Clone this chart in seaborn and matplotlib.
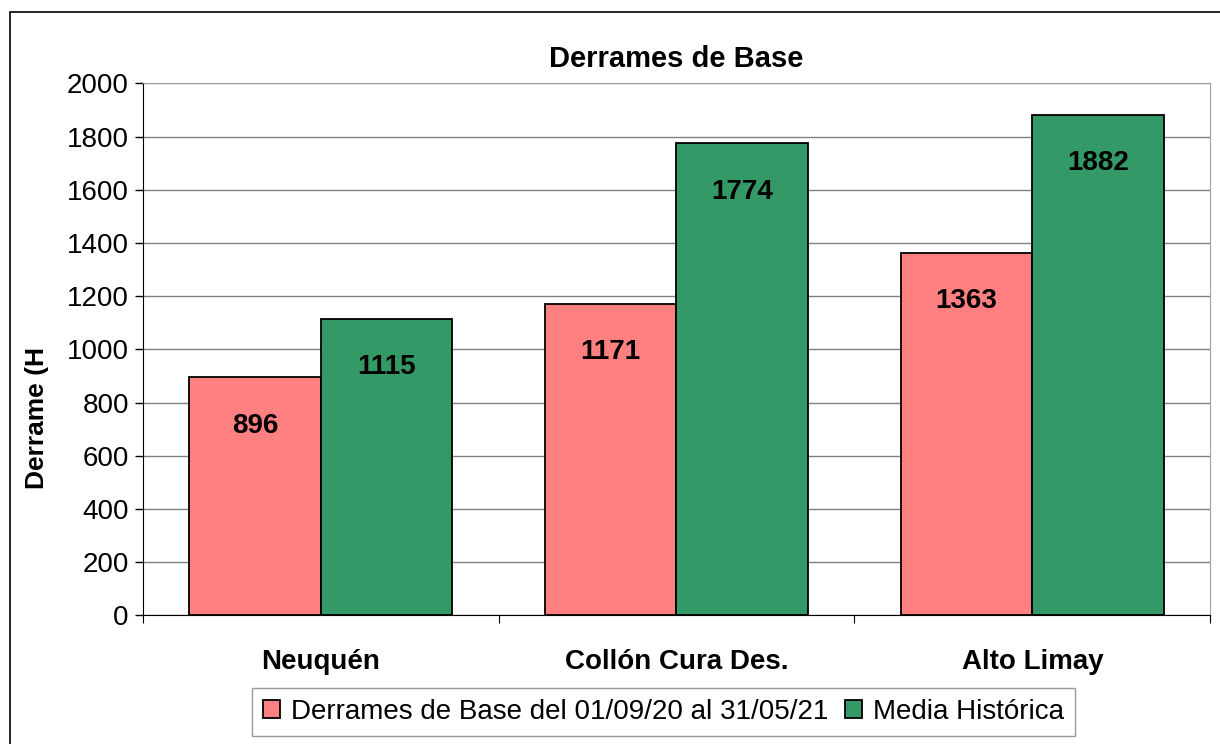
import numpy as np
import pandas as pd
import seaborn as sns
import matplotlib.pyplot as plt
from matplotlib.patches import Rectangle

categorias = ["Neuquén", "Collón Cura Des.", "Alto Limay"]
derrames = [896, 1171, 1363]
media = [1115, 1774, 1882]
series = ["Derrames de Base del 01/09/20 al 31/05/21", "Media Histórica"]

df = pd.DataFrame({
    "cat": categorias * 2,
    "serie": [series[0]] * 3 + [series[1]] * 3,
    "val": derrames + media,
})

sns.set_style("white")
plt.rcParams['font.family'] = ['Liberation Sans', 'DejaVu Sans']
plt.rcParams['text.color'] = 'black'
plt.rcParams['axes.labelcolor'] = 'black'
plt.rcParams['xtick.color'] = 'black'
plt.rcParams['ytick.color'] = 'black'

fig = plt.figure(figsize=(12.2, 7.44), dpi=100)
ax = fig.add_axes([0.117, 0.173, 0.875, 0.715])
sns.barplot(data=df, x="cat", y="val", hue="serie", palette=["#FF8080", "#339966"],
            saturation=1, width=0.74, edgecolor="black", linewidth=1.3, ax=ax, zorder=3)

# etiquetas dentro de las barras
for cont in ax.containers:
    for b in cont:
        h = b.get_height()
        ax.annotate(f"{h:.0f}", (b.get_x() + b.get_width() / 2, h), xytext=(0, -35),
                    textcoords="offset points", ha="center", va="center",
                    fontsize=20, fontweight="bold", zorder=4)

ax.set_ylim(0, 2000)
ax.set_xlim(-0.5, 2.5)
ax.set_yticks(range(0, 2001, 200))
ax.tick_params(axis="y", labelsize=20, length=6, direction="out", left=True, width=1, pad=4)
ax.set_xticks([-0.5, 0.5, 1.5, 2.5], minor=False)
ax.set_xticklabels([])
ax.set_xticks([0, 1, 2], minor=True)
ax.set_xticklabels(categorias, minor=True, fontsize=20, fontweight="bold")
ax.tick_params(axis="x", which="major", length=6, direction="out", bottom=True)
ax.tick_params(axis="x", which="minor", length=0, pad=24)
ax.yaxis.grid(True, color="#808080", linewidth=1)
ax.set_axisbelow(True)
for s in ["top", "right"]:
    ax.spines[s].set_color("#a0a0a0")
for s in ["left", "bottom"]:
    ax.spines[s].set_color("black")
ax.set_xlabel("")
ax.set_ylabel("Derrame (H", fontsize=19, fontweight="bold")
ax.yaxis.set_label_coords(-0.088, 0.37)
ax.set_title("Derrames de Base", fontsize=21, fontweight="bold", pad=12)

ax.get_legend().remove()
h, l = ax.get_legend_handles_labels()
leg = fig.legend(h, l, loc="center", bbox_to_anchor=(0.544, 0.043), ncol=2,
                 fontsize=20, frameon=True, fancybox=False, edgecolor="#808080",
                 handlelength=0.6, handleheight=0.6, handletextpad=0.4, columnspacing=0.6,
                 borderpad=0.4)

fig.patches.append(Rectangle((10 / 1220, -0.01), 1.1, 1 - 12 / 744 + 0.01, transform=fig.transFigure,
                             fill=False, edgecolor="black", linewidth=1.2))

fig.savefig("out.png", dpi=100)
